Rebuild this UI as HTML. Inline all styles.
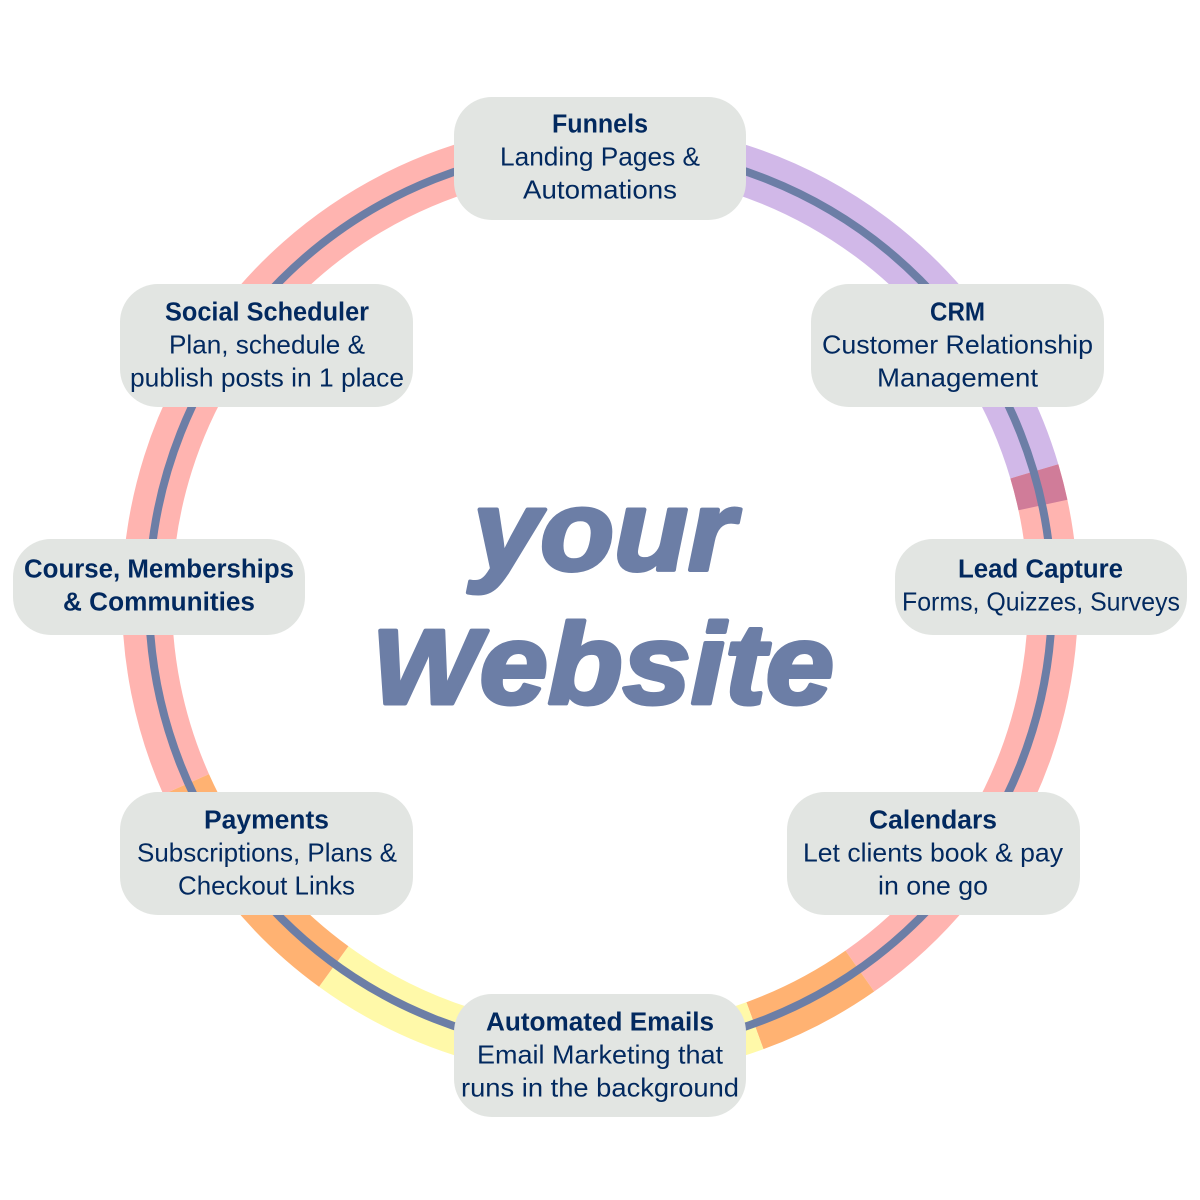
<!DOCTYPE html>
<html lang="en">
<head>
<meta charset="utf-8">
<title>your Website</title>
<style>
html,body{margin:0;padding:0;background:#fff;width:1200px;height:1200px;overflow:hidden}
svg{display:block}
text{font-family:"Liberation Sans",sans-serif;fill:#02295f;font-size:26px}
.b{font-weight:700;font-size:25.5px}
.big{font-weight:700;font-style:italic;font-size:114px;fill:#6c7ea6;stroke:#6c7ea6;stroke-width:4px;stroke-linejoin:round}
</style>
</head>
<body>
<svg xmlns="http://www.w3.org/2000/svg" width="1200" height="1200" viewBox="0 0 1200 1200">
<rect width="1200" height="1200" fill="#fff"/>
<g id="bands" fill="none" stroke-width="50"></g>
<circle cx="600.5" cy="599" r="451.5" fill="none" stroke="#6c7ea6" stroke-width="8"/>
<g fill="#e2e5e2">
<rect x="454" y="97" width="292" height="123" rx="38"/>
<rect x="120" y="284" width="293" height="123" rx="38"/>
<rect x="811" y="284" width="293" height="123" rx="38"/>
<rect x="895" y="539" width="292" height="96" rx="38"/>
<rect x="13" y="539" width="292" height="96" rx="38"/>
<rect x="120" y="792" width="293" height="123" rx="38"/>
<rect x="787" y="792" width="293" height="123" rx="38"/>
<rect x="454" y="994" width="292" height="123" rx="38"/>
</g>
<g>
<text class="b" x="552" y="132.5" textLength="96" lengthAdjust="spacingAndGlyphs">Funnels</text>
<text x="500" y="165.5" textLength="200" lengthAdjust="spacingAndGlyphs">Landing Pages &amp;</text>
<text x="523" y="198.5" textLength="154" lengthAdjust="spacingAndGlyphs">Automations</text>

<text class="b" x="165" y="320.5" textLength="204" lengthAdjust="spacingAndGlyphs">Social Scheduler</text>
<text x="169" y="353.5" textLength="196" lengthAdjust="spacingAndGlyphs">Plan, schedule &amp;</text>
<text x="130" y="386.5" textLength="274" lengthAdjust="spacingAndGlyphs">publish posts in 1 place</text>

<text class="b" x="930" y="320.5" textLength="55" lengthAdjust="spacingAndGlyphs">CRM</text>
<text x="822" y="353.5" textLength="271" lengthAdjust="spacingAndGlyphs">Customer Relationship</text>
<text x="877" y="386.5" textLength="161" lengthAdjust="spacingAndGlyphs">Management</text>

<text class="b" x="958" y="577.5" textLength="165" lengthAdjust="spacingAndGlyphs">Lead Capture</text>
<text x="902" y="610.5" textLength="278" lengthAdjust="spacingAndGlyphs">Forms, Quizzes, Surveys</text>

<text class="b" x="24" y="577.5" textLength="270" lengthAdjust="spacingAndGlyphs">Course, Memberships</text>
<text class="b" x="63" y="610.5" textLength="192" lengthAdjust="spacingAndGlyphs">&amp; Communities</text>

<text class="b" x="204" y="828.5" textLength="125" lengthAdjust="spacingAndGlyphs">Payments</text>
<text x="137" y="861.5" textLength="260" lengthAdjust="spacingAndGlyphs">Subscriptions, Plans &amp;</text>
<text x="178" y="894.5" textLength="177" lengthAdjust="spacingAndGlyphs">Checkout Links</text>

<text class="b" x="869" y="828.5" textLength="128" lengthAdjust="spacingAndGlyphs">Calendars</text>
<text x="803" y="861.5" textLength="260" lengthAdjust="spacingAndGlyphs">Let clients book &amp; pay</text>
<text x="878" y="894.5" textLength="110" lengthAdjust="spacingAndGlyphs">in one go</text>

<text class="b" x="486" y="1030.5" textLength="228" lengthAdjust="spacingAndGlyphs">Automated Emails</text>
<text x="477" y="1063.5" textLength="246" lengthAdjust="spacingAndGlyphs">Email Marketing that</text>
<text x="461" y="1096.5" textLength="278" lengthAdjust="spacingAndGlyphs">runs in the background</text>

<text class="big" x="473" y="570" textLength="262" lengthAdjust="spacingAndGlyphs">your</text>
<text class="big" x="372" y="703.5" textLength="462" lengthAdjust="spacingAndGlyphs"><tspan style="font-size:106px">W</tspan>ebsite</text>
</g>
<script>
(function(){
var g=document.getElementById('bands'),r=453,c=600;
function p(a){a=a*Math.PI/180;return (c+r*Math.cos(a)).toFixed(2)+' '+(c+r*Math.sin(a)).toFixed(2);}
function arc(a,b,col){
 var e=document.createElementNS('http://www.w3.org/2000/svg','path');
 e.setAttribute('d','M'+p(a)+' A'+r+' '+r+' 0 '+((b-a)>180?1:0)+' 1 '+p(b));
 e.setAttribute('stroke',col);
 g.appendChild(e);
}
arc(-16.5,55,'#ffb4b0');
arc(156,270,'#ffb4b0');
arc(-90,-16.5,'#d1b8e8');
arc(-16.5,-12.1,'#d07c99');
arc(55,70,'#ffb272');
arc(70,126,'#fff9a9');
arc(126,156,'#ffb272');
})();
</script>
</svg>
</body>
</html>
